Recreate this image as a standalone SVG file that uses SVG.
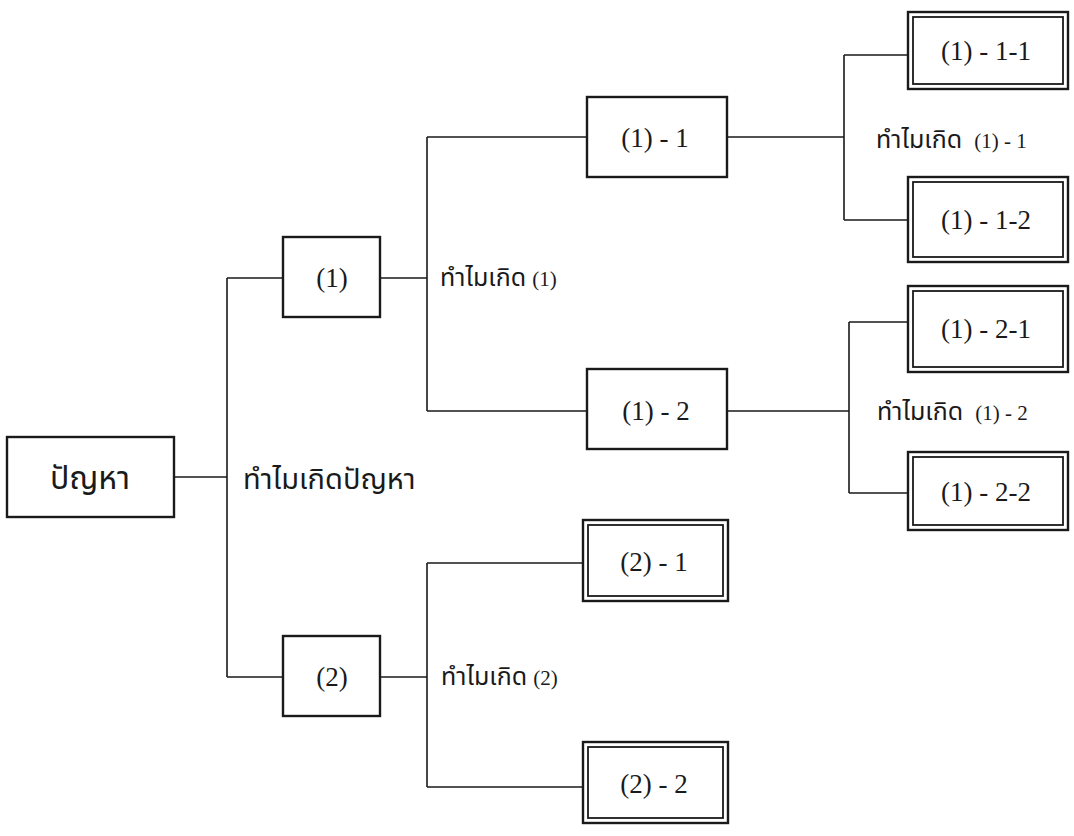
<svg xmlns="http://www.w3.org/2000/svg" width="1074" height="836" viewBox="0 0 1074 836">
<style>
.box{fill:#fff;stroke:#1a1a1a;stroke-width:2.4}
.inner{fill:none;stroke:#1a1a1a;stroke-width:1.8}
.t{font-family:"Liberation Serif","Noto Sans Thai","Noto Serif Thai","Garuda","Loma",serif;font-size:27px;fill:#1a1a1a;text-anchor:middle}
.lbl{font-family:"Liberation Serif","Noto Sans Thai","Garuda","Loma",serif;font-size:25px;fill:#1a1a1a}
.big{font-size:29px}
.root{font-size:32px}
.n{font-size:21px}
.c{fill:none;stroke:#1a1a1a;stroke-width:1.6}
</style>
<rect width="1074" height="836" fill="#fff"/>
<g id="connectors">
<path class="c" d="M174,477H227M227,278V677M227,278H283M227,677H283"/>
<path class="c" d="M380,278H427M427,137V411M427,137H587M427,411H587"/>
<path class="c" d="M727,137H844M844,55V220M844,55H908M844,220H908"/>
<path class="c" d="M727,411H849M849,322V493M849,322H908M849,493H908"/>
<path class="c" d="M380,677H427M427,563V787M427,563H583M427,787H583"/>
</g>
<g id="labels">
<text class="lbl big" x="243" y="489">ทำไมเกิดปัญหา</text>
<text class="lbl" x="440" y="286">ทำไมเกิด <tspan class="n">(1)</tspan></text>
<text class="lbl" x="876" y="148">ทำไมเกิด <tspan class="n" dx="6">(1) - 1</tspan></text>
<text class="lbl" x="877" y="420">ทำไมเกิด <tspan class="n" dx="6">(1) - 2</tspan></text>
<text class="lbl" x="441" y="685">ทำไมเกิด <tspan class="n">(2)</tspan></text>
</g>
<g id="n-root"><rect class="box" x="7" y="437" width="167" height="80"/><text class="t root" x="90" y="489">ปัญหา</text></g>
<g id="n-1"><rect class="box" x="283" y="237" width="97" height="80"/><text class="t" x="332" y="287">(1)</text></g>
<g id="n-2"><rect class="box" x="283" y="636" width="97" height="80"/><text class="t" x="332" y="686">(2)</text></g>
<g id="n-1-1"><rect class="box" x="587" y="97" width="140" height="80"/><text class="t" x="655" y="147">(1) - 1</text></g>
<g id="n-1-2"><rect class="box" x="587" y="369" width="140" height="80"/><text class="t" x="656" y="420">(1) - 2</text></g>
<g id="n-1-1-1"><rect class="box" x="908" y="12" width="160" height="77"/><rect class="inner" x="913" y="17" width="150" height="67"/><text class="t" x="986" y="60">(1) - 1-1</text></g>
<g id="n-1-1-2"><rect class="box" x="908" y="177" width="160" height="85"/><rect class="inner" x="913" y="182" width="150" height="75"/><text class="t" x="986" y="229">(1) - 1-2</text></g>
<g id="n-1-2-1"><rect class="box" x="908" y="286" width="160" height="86"/><rect class="inner" x="913" y="291" width="150" height="76"/><text class="t" x="986" y="338">(1) - 2-1</text></g>
<g id="n-1-2-2"><rect class="box" x="908" y="452" width="160" height="78"/><rect class="inner" x="913" y="457" width="150" height="68"/><text class="t" x="986" y="501">(1) - 2-2</text></g>
<g id="n-2-1"><rect class="box" x="583" y="520" width="145" height="81"/><rect class="inner" x="588" y="525" width="135" height="71"/><text class="t" x="654" y="571">(2) - 1</text></g>
<g id="n-2-2"><rect class="box" x="583" y="742" width="145" height="81"/><rect class="inner" x="588" y="747" width="135" height="71"/><text class="t" x="654" y="793">(2) - 2</text></g>
</svg>
